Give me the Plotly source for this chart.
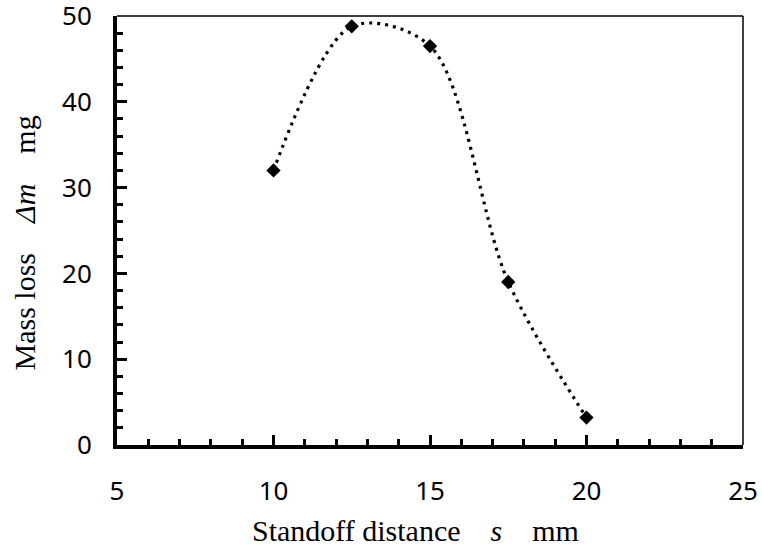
import plotly.graph_objects as go

# Data
standoff_mm = [10, 12.5, 15, 17.5, 20]
mass_loss_mg = [32.0, 48.8, 46.5, 19.0, 3.2]

x_ticks = [5, 10, 15, 20, 25]
y_ticks = [0, 10, 20, 30, 40, 50]

fig = go.Figure()
fig.add_trace(go.Scatter(
    x=standoff_mm, y=mass_loss_mg,
    mode="lines",
    line=dict(shape="spline", smoothing=0.9, color="black", width=3.2, dash="3px,5px"),
    hoverinfo="skip", showlegend=False,
))
fig.add_trace(go.Scatter(
    x=standoff_mm, y=mass_loss_mg,
    mode="markers",
    marker=dict(symbol="diamond", size=11, color="black", line=dict(width=0)),
    showlegend=False,
))

tick_font = dict(family="Noto Sans, Liberation Sans, sans-serif", size=26, color="black")
title_font = dict(family="Liberation Serif, Times New Roman, serif", size=30, color="black")

fig.update_layout(
    template="none",
    width=762, height=552,
    margin=dict(l=117, r=19, t=16, b=107, autoexpand=False),
    plot_bgcolor="white", paper_bgcolor="white",
    xaxis=dict(
        range=[5, 25], tickvals=x_ticks, ticktext=[str(v) for v in x_ticks],
        showgrid=False, zeroline=False, automargin=False,
        showline=True, linecolor="black", linewidth=4,
        ticks="inside", ticklen=10, tickwidth=3, tickcolor="black",
        minor=dict(dtick=1, ticks="inside", ticklen=6, tickwidth=3, tickcolor="black", showgrid=False),
        tickfont=tick_font, ticklabelstandoff=20, ticklabeloverflow="allow",
    ),
    yaxis=dict(
        range=[0, 50], tickvals=y_ticks, ticktext=[str(v) for v in y_ticks],
        showgrid=False, zeroline=False, automargin=False,
        showline=True, linecolor="black", linewidth=4,
        ticks="inside", ticklen=10, tickwidth=3, tickcolor="black",
        minor=dict(dtick=2, ticks="inside", ticklen=6, tickwidth=3, tickcolor="black", showgrid=False),
        tickfont=tick_font, ticklabelstandoff=16, ticklabeloverflow="allow",
    ),
    shapes=[
        dict(type="line", xref="paper", yref="paper", x0=0, x1=1, y0=1, y1=1,
             line=dict(color="black", width=1.5)),
        dict(type="line", xref="paper", yref="paper", x0=1, x1=1, y0=0, y1=1,
             line=dict(color="black", width=1.5)),
    ],
    annotations=[
        dict(text="Standoff distance\u2003<i>s</i>\u2003mm", xref="paper", yref="paper",
             x=0.477, y=-0.2, xanchor="center", yanchor="middle", showarrow=False,
             font=title_font),
        dict(text="Mass loss\u2003<i>Δm</i>\u2003mg", xref="paper", yref="paper",
             x=-0.147, y=0.472, xanchor="center", yanchor="middle", showarrow=False,
             textangle=-90, font=title_font),
    ],
)

fig.write_html("out.html", config={"displayModeBar": False},
               post_script="document.body.style.margin='0';document.body.style.overflow='hidden';")
